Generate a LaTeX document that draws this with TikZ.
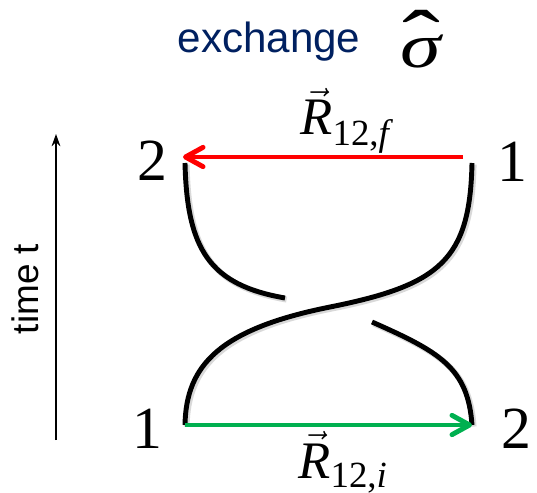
\documentclass[tikz,border=0pt]{standalone}
\usepackage{amsmath}
\usepackage{graphicx}
\usepackage{fontspec}
\setmainfont{Liberation Serif}
\setsansfont{Liberation Sans}
\usetikzlibrary{arrows.meta,calc}
\definecolor{navy}{HTML}{002060}
\definecolor{sepred}{HTML}{FF0000}
\definecolor{sepgreen}{HTML}{00B050}

\begin{document}
\begin{tikzpicture}[
  x=0.02cm, y=-0.02cm,
  strand/.style={line width=2.8pt, line cap=butt,
    preaction={draw=black!15, line width=3.4pt, transform canvas={xshift=0.9pt, yshift=-0.9pt}}},
  digit/.style={inner sep=0pt, anchor=base, font=\fontsize{34}{40}\selectfont},
  veclabel/.style={inner sep=0pt, anchor=base west, font=\fontsize{30}{34}\selectfont},
  sans/.style={inner sep=0pt, anchor=base, font=\sffamily\fontsize{24}{28}\selectfont},
  sep/.style={-{Straight Barb[length=10pt, width=11pt, line cap=round, line join=round]}, line width=2.8pt},
  timearr/.style={-{Stealth[length=7pt, width=5pt]}, line width=0.8pt}
]
\useasboundingbox (0,0) rectangle (537,493);

% title
\node[sans, text=navy] (title) at (269,53) {exchange};
\node[inner sep=0pt, anchor=base, font=\fontsize{36}{40}\selectfont] (sigma) at (421,68)
  {\ooalign{\hfil\scalebox{1.8}[1.3]{ˆ}\hfil\cr\itshape\scalebox{1.3}[1]{σ}\cr}};

% time axis
\coordinate (tstart) at (56,440);
\coordinate (tend) at (56,134);
\draw[timearr] (tstart) -- (tend);
\node[sans, rotate=90, font=\sffamily\fontsize{21}{24}\selectfont] (time) at (38,289) {time t};

% particle labels
\node[digit] (f2) at (152,181) {2};
\node[digit] (f1) at (512,182) {1};
\node[digit] (i1) at (147,448) {1};
\node[digit] (i2) at (516,448) {2};

% strand ends
\coordinate (top2) at (185,163);
\coordinate (top1) at (472,163);
\coordinate (bot1) at (185,425);
\coordinate (bot2) at (472,425);
\coordinate (mid) at (330,307);
\coordinate (cutL) at (285,298);
\coordinate (cutR) at (372,322);

% world lines
\draw[strand] (top2) .. controls (187,250) and (210,285) .. (cutL);
\draw[strand] (bot1) .. controls (186,365) and (220,329) .. (mid)
  .. controls (440,285) and (470,260) .. (top1);
\draw[strand] (cutR) .. controls (440,352) and (468,368) .. (bot2);

% separation vectors
\coordinate (rf0) at (463,157);
\coordinate (rf1) at (183,157);
\draw[sep, sepred] (rf0) -- (rf1);
\draw[sep, sepgreen] (bot1) -- (bot2);
\node[veclabel] (rf) at (300,135) {$\vec{\text{\itshape R}}_{\text{12,\itshape f}}$};
\node[veclabel] (ri) at (298,478) {$\vec{\text{\itshape R}}_{\text{12,\itshape i}}$};
\end{tikzpicture}
\end{document}
